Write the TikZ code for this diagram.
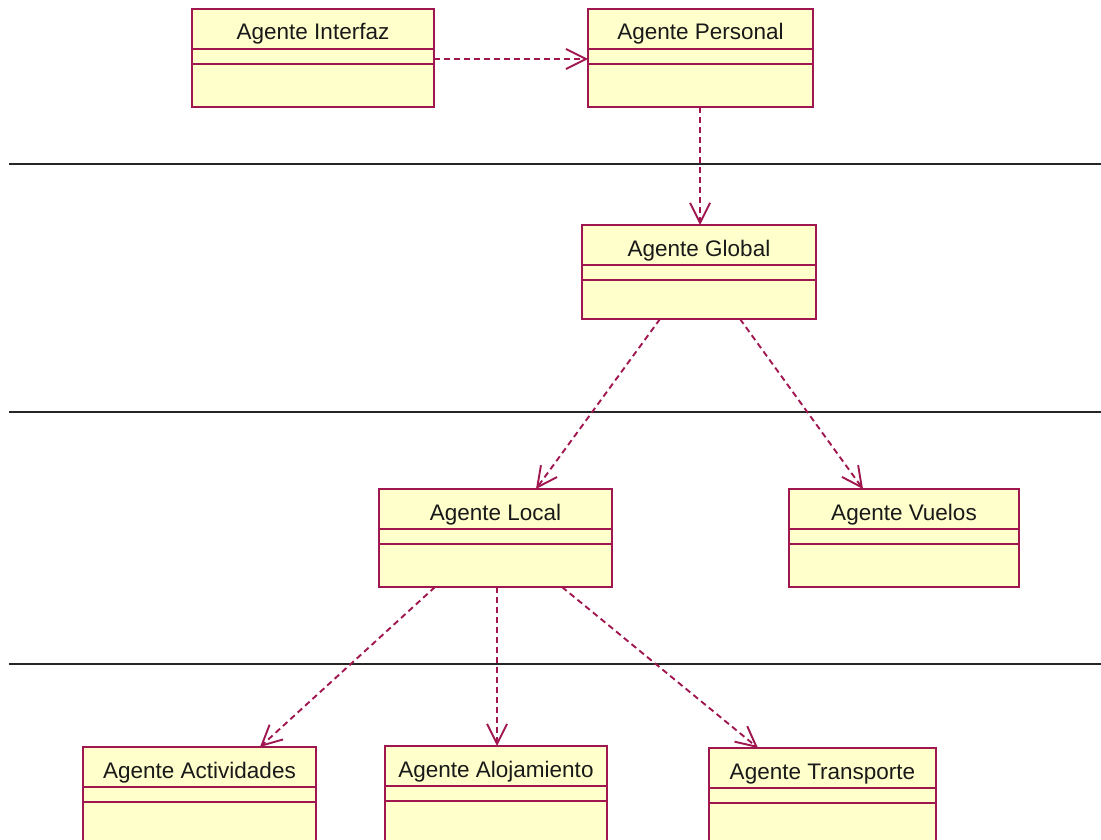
\documentclass[tikz,border=0pt]{standalone}
\usepackage{fontspec}
\setmainfont{Liberation Sans}
\usetikzlibrary{arrows.meta}

\definecolor{umlborder}{HTML}{A0174F}
\definecolor{umlfill}{HTML}{FFFFCC}

\tikzset{
  classbox/.style={draw=umlborder, fill=umlfill, line width=2.2pt,
    inner sep=0pt, outer sep=0pt, rectangle},
  classline/.style={draw=umlborder, line width=2.2pt},
  classtitle/.style={inner sep=0pt, font=\fontsize{22.5}{26}\selectfont, text=black!90},
  dep/.style={draw=umlborder, line width=1.9pt, dash pattern=on 6pt off 4pt,
    -{Straight Barb[length=20pt,width=20pt,line width=1.9pt]}},
  vdep/.style={dep, line width=2pt,
    -{Straight Barb[length=20pt,width=20pt,line width=1.9pt]}},
  layer/.style={draw=black!85, line width=2.2pt}
}

% #1 name, #2 left, #3 top, #4 right, #5 bottom, #6 title
\newcommand\umlclass[6]{%
  \node[classbox, anchor=north west,
        minimum width={(#4-#2)*1pt}, minimum height={(#5-#3)*1pt}] (#1) at (#2,#3) {};
  \draw[classline] ([yshift=-40pt]#1.north west) -- ([yshift=-40pt]#1.north east);
  \draw[classline] ([yshift=-55pt]#1.north west) -- ([yshift=-55pt]#1.north east);
  \node[classtitle, anchor=base] (#1-title) at ([yshift=-31pt]#1.north) {#6};
}

\begin{document}
\begin{tikzpicture}[x=1pt, y=-1pt]
  \useasboundingbox (0,0) rectangle (1101,840);
  \clip (0,0) rectangle (1101,840);

  % layer separators
  \coordinate (s1l) at (9,164);  \coordinate (s1r) at (1101,164);
  \coordinate (s2l) at (9,412);  \coordinate (s2r) at (1101,412);
  \coordinate (s3l) at (9,664);  \coordinate (s3r) at (1101,664);
  \draw[layer] (s1l) -- (s1r);
  \draw[layer] (s2l) -- (s2r);
  \draw[layer] (s3l) -- (s3r);

  % classes
  \umlclass{ai}{192}{9}{434}{107}{Agente Interfaz}
  \umlclass{ap}{588}{9}{813}{107}{Agente Personal}
  \umlclass{gl}{582}{225}{816}{319}{Agente Global}
  \umlclass{lo}{379}{489}{612}{587}{Agente Local}
  \umlclass{vu}{789}{489}{1019}{587}{Agente Vuelos}
  \umlclass{ac}{83}{747}{316}{870}{Agente Actividades}
  \umlclass{al}{385}{746}{607}{870}{Agente Alojamiento}
  \umlclass{tr}{709}{748}{936}{870}{Agente Transporte}

  % dependencies
  \draw[dep] ([yshift=-50pt]ai.north east) -- ([yshift=-50pt]ap.north west);
  \draw[vdep] ([xshift=-0.5pt]ap.south) -- ([xshift=-0.5pt]ap.south |- gl.north);
  \draw[dep] ([xshift=-39pt]gl.south) -- ([xshift=40.5pt]lo.north);
  \draw[dep] ([xshift=41pt]gl.south) -- ([xshift=-41pt]vu.north);
  \draw[dep] ([xshift=-60.5pt]lo.south) -- ([xshift=60.5pt]ac.north);
  \draw[vdep] ([xshift=1pt]al.north |- lo.south) -- ([xshift=1pt]al.north);
  \draw[dep] ([xshift=66.5pt]lo.south) -- ([xshift=-64.5pt]tr.north);
\end{tikzpicture}
\end{document}
